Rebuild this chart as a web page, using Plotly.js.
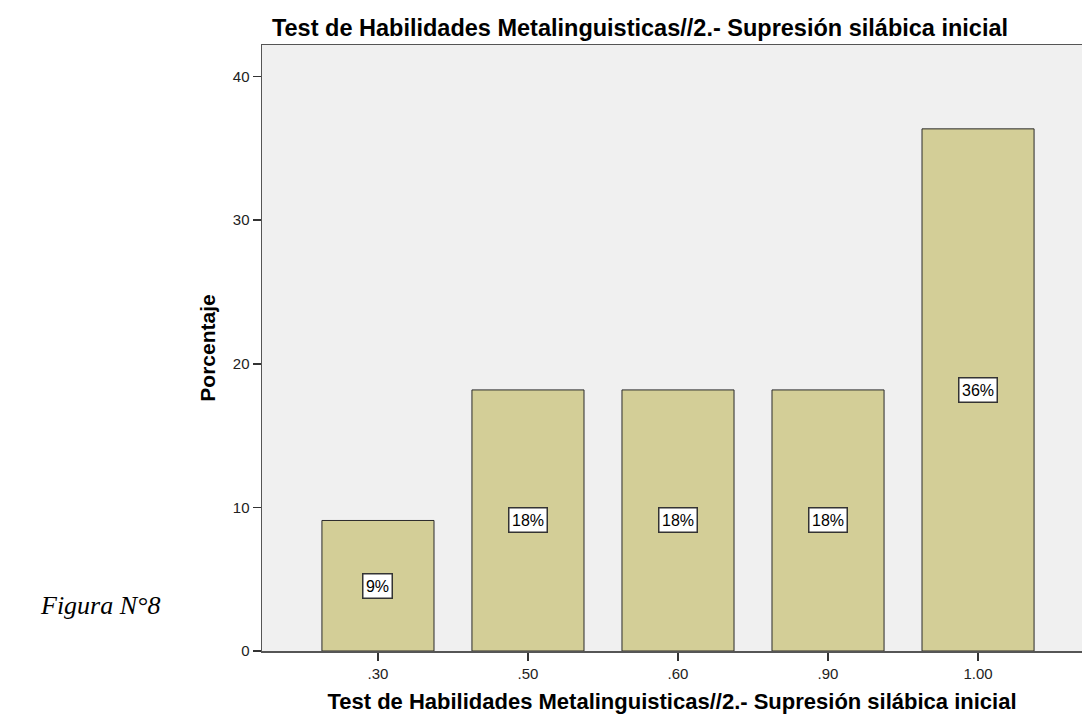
<!DOCTYPE html>
<html>
<head>
<meta charset="utf-8">
<script src="https://cdn.plot.ly/plotly-3.0.1.min.js"></script>
<style>html,body{margin:0;padding:0;background:#fff;}#chart{width:1082px;height:718px;}</style>
</head>
<body>
<div id="chart"></div>
<script>
var categories = [".30", ".50", ".60", ".90", "1.00"];
var percentages = [9.09, 18.18, 18.18, 18.18, 36.36];
var barLabels = ["9%", "18%", "18%", "18%", "36%"];
var yTicks = [0, 10, 20, 30, 40];

var FONT = "Liberation Sans, Arial, sans-serif";

var trace = {
  type: "bar",
  x: categories,
  y: percentages,
  width: 0.747,
  marker: {color: "#D3CE97", line: {color: "#2a2a2a", width: 1}},
  hoverinfo: "skip"
};

var annotations = categories.map(function(c, i){
  return {
    x: i, y: percentages[i] / 2, xref: "x", yref: "y",
    text: barLabels[i], showarrow: false,
    font: {family: FONT, size: 16, color: "#000"},
    bgcolor: "#ffffff", bordercolor: "#333", borderwidth: 1.5, borderpad: 0,
    width: barLabels[i].length > 2 ? 37 : 28, height: 23
  };
});
annotations.push({
  xref: "paper", yref: "paper", x: -0.1976, y: 0.0743,
  xanchor: "center", yanchor: "middle",
  text: "Figura N°8", showarrow: false,
  font: {family: "Liberation Serif, Times New Roman, serif", size: 26, color: "#000", style: "italic"}
});

var layout = {
  width: 1082, height: 718,
  margin: {l: 262, r: 0, t: 45, b: 67, pad: 0},
  paper_bgcolor: "#ffffff",
  plot_bgcolor: "#f0f0f0",
  showlegend: false,
  title: {
    text: "<b>Test de Habilidades Metalinguisticas//2.- Supresión silábica inicial</b>",
    font: {family: FONT, size: 23.5, color: "#000"},
    xref: "container", yref: "container",
    x: 640 / 1082, xanchor: "center",
    y: 1 - 28 / 718, yanchor: "middle"
  },
  xaxis: {
    type: "category",
    range: [-0.773, 4.693],
    showline: true, linecolor: "#555", linewidth: 1.5, mirror: true,
    ticks: "outside", ticklen: 8, tickcolor: "#333", tickwidth: 1.5,
    tickfont: {family: FONT, size: 15, color: "#222"},
    showgrid: false, zeroline: false,
    title: {
      text: "<b>Test de Habilidades Metalinguisticas//2.- Supresión silábica inicial</b>",
      font: {family: FONT, size: 22, color: "#000"},
      standoff: 13
    }
  },
  yaxis: {
    range: [0, 42.2],
    tickvals: yTicks,
    ticktext: yTicks.map(String),
    showline: true, linecolor: "#555", linewidth: 1.5,
    ticks: "outside", ticklen: 8, tickcolor: "#333", tickwidth: 1.5,
    tickfont: {family: FONT, size: 15, color: "#222"},
    showgrid: false, zeroline: false,
    title: {
      text: "<b>Porcentaje</b>",
      font: {family: FONT, size: 21, color: "#000"},
      standoff: 11
    }
  },
  annotations: annotations
};

Plotly.newPlot("chart", [trace], layout, {displayModeBar: false, staticPlot: true});
</script>
</body>
</html>
